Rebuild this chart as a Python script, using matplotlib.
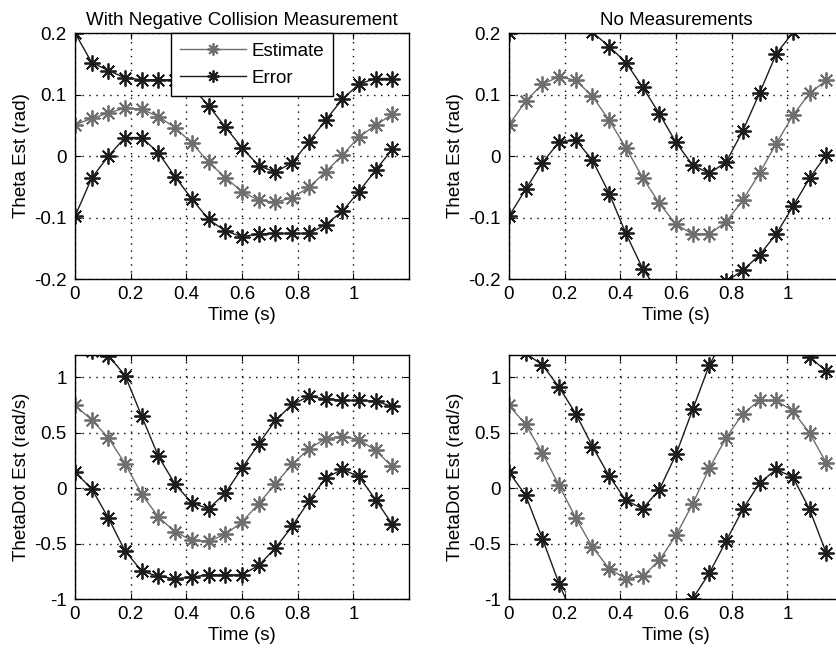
import numpy as np
import matplotlib
matplotlib.use("Agg")
import matplotlib.pyplot as plt

plt.rcParams['font.family'] = ['Liberation Sans', 'DejaVu Sans']

t = np.round(np.arange(20) * 0.06, 2)

# Top-left: With Negative Collision Measurement (theta)
tl_est = [0.051, 0.061, 0.070, 0.078, 0.076, 0.064, 0.046, 0.021, -0.010, -0.035,
          -0.058, -0.072, -0.075, -0.068, -0.051, -0.026, 0.001, 0.031, 0.050, 0.068]
tl_up = [0.200, 0.152, 0.139, 0.127, 0.124, 0.124, 0.124, 0.112, 0.082, 0.047,
         0.0135, -0.016, -0.026, -0.011, 0.023, 0.058, 0.092, 0.117, 0.126, 0.126]
tl_lo = [-0.098, -0.036, 0.000, 0.030, 0.030, 0.005, -0.034, -0.070, -0.103, -0.122,
         -0.131, -0.127, -0.126, -0.126, -0.126, -0.112, -0.090, -0.058, -0.023, 0.011]

# Top-right: No Measurements (theta)
tr_est = [0.051, 0.089, 0.117, 0.129, 0.123, 0.097, 0.058, 0.0135, -0.035, -0.077,
          -0.111, -0.127, -0.127, -0.107, -0.072, -0.028, 0.020, 0.066, 0.102, 0.123]
tr_up = [0.200, 0.232, 0.245, 0.235, 0.220, 0.201, 0.178, 0.152, 0.112, 0.069,
         0.022, -0.015, -0.028, -0.010, 0.041, 0.102, 0.166, 0.201, 0.240, 0.244]
tr_lo = [-0.098, -0.054, -0.011, 0.023, 0.026, -0.007, -0.061, -0.126, -0.183, -0.223,
         -0.244, -0.239, -0.226, -0.204, -0.186, -0.161, -0.127, -0.082, -0.036, 0.002]

# Bottom-left: With Negative Collision Measurement (theta dot)
bl_est = [0.745, 0.616, 0.453, 0.219, -0.057, -0.261, -0.396, -0.471, -0.480, -0.417,
          -0.306, -0.141, 0.039, 0.213, 0.354, 0.444, 0.465, 0.438, 0.339, 0.195]
bl_up = [1.346, 1.238, 1.195, 1.015, 0.646, 0.285, 0.033, -0.135, -0.186, -0.045,
         0.180, 0.399, 0.610, 0.754, 0.826, 0.805, 0.790, 0.790, 0.784, 0.736]
bl_lo = [0.144, -0.006, -0.270, -0.568, -0.748, -0.796, -0.817, -0.802, -0.781, -0.787,
         -0.781, -0.697, -0.541, -0.345, -0.117, 0.090, 0.168, 0.105, -0.105, -0.327]

# Bottom-right: No Measurements (theta dot)
br_est = [0.745, 0.574, 0.315, 0.024, -0.270, -0.532, -0.727, -0.817, -0.796, -0.652,
          -0.426, -0.141, 0.180, 0.453, 0.670, 0.790, 0.790, 0.694, 0.495, 0.228]
br_up = [1.346, 1.214, 1.111, 0.910, 0.670, 0.375, 0.108, -0.111, -0.186, -0.015,
         0.303, 0.709, 1.111, 1.383, 1.532, 1.535, 1.412, 1.289, 1.182, 1.054]
br_lo = [0.144, -0.066, -0.456, -0.862, -1.210, -1.439, -1.562, -1.523, -1.406, -1.289,
         -1.155, -0.997, -0.766, -0.477, -0.192, 0.045, 0.168, 0.099, -0.192, -0.586]

titles = ["With Negative Collision Measurement", "No Measurements"]
ylabels = ["Theta Est (rad)", "ThetaDot Est (rad/s)"]
xlabel = "Time (s)"
legend_labels = ["Estimate", "Error"]

est_color = '#6e6e6e'
err_color = '#1c1c1c'
marker = (8, 2, 0)
FS = 13.5

W, H = 837, 650
fig = plt.figure(figsize=(W / 100, H / 100), dpi=100)

def rect(l, t_, r, b):
    return [l / W, 1 - b / H, (r - l) / W, (b - t_) / H]

axes = {
    'tl': fig.add_axes(rect(75, 33, 409, 279)),
    'tr': fig.add_axes(rect(509, 33, 843, 279)),
    'bl': fig.add_axes(rect(75, 355, 409, 599)),
    'br': fig.add_axes(rect(509, 355, 843, 599)),
}

panels = [
    ('tl', tl_est, tl_up, tl_lo, (-0.2, 0.2), [-0.2, -0.1, 0, 0.1, 0.2], ['-0.2', '-0.1', '0', '0.1', '0.2'], titles[0], ylabels[0]),
    ('tr', tr_est, tr_up, tr_lo, (-0.2, 0.2), [-0.2, -0.1, 0, 0.1, 0.2], ['-0.2', '-0.1', '0', '0.1', '0.2'], titles[1], ylabels[0]),
    ('bl', bl_est, bl_up, bl_lo, (-1, 1.2), [-1, -0.5, 0, 0.5, 1], ['-1', '-0.5', '0', '0.5', '1'], None, ylabels[1]),
    ('br', br_est, br_up, br_lo, (-1, 1.2), [-1, -0.5, 0, 0.5, 1], ['-1', '-0.5', '0', '0.5', '1'], None, ylabels[1]),
]

xticks = [0, 0.2, 0.4, 0.6, 0.8, 1]
xticklabels = ['0', '0.2', '0.4', '0.6', '0.8', '1']

for key, est, up, lo, ylim, yt, ytl, title, ylab in panels:
    ax = axes[key]
    ax.set_xlim(0, 1.2)
    ax.set_ylim(*ylim)
    kw = dict(lw=1.0, marker=marker, ms=11.5, mew=1.3)
    l1, = ax.plot(t, est, color=est_color, label=legend_labels[0], **kw)
    l2, = ax.plot(t, up, color=err_color, label=legend_labels[1], **kw)
    ax.plot(t, lo, color=err_color, **kw)
    ax.set_xticks(xticks)
    ax.set_xticklabels(xticklabels)
    ax.set_yticks(yt)
    ax.set_yticklabels(ytl)
    ax.grid(True, color='black', linestyle=(0, (1, 4)), linewidth=1.0)
    ax.tick_params(direction='in', top=True, right=True, labelsize=FS, length=4)
    ax.tick_params(axis='x', pad=5)
    ax.tick_params(axis='y', pad=6)
    for s in ax.spines.values():
        s.set_linewidth(1.0)
    ax.set_xlabel(xlabel, fontsize=FS, labelpad=3)
    ax.set_ylabel(ylab, fontsize=FS, labelpad=3)
    if title:
        ax.set_title(title, fontsize=FS, pad=6)
    if key == 'tl':
        leg = ax.legend(handles=[l1, l2], loc='upper left', bbox_to_anchor=(0.287, 1.0),
                        borderaxespad=0, fancybox=False, edgecolor='black', framealpha=1,
                        fontsize=FS, handlelength=3.5, markerscale=0.75, numpoints=1,
                        borderpad=0.5, labelspacing=0.55, handletextpad=0.3)
        leg.get_frame().set_linewidth(1.0)
        leg.set_zorder(5)

fig.savefig('out.png', dpi=100)
